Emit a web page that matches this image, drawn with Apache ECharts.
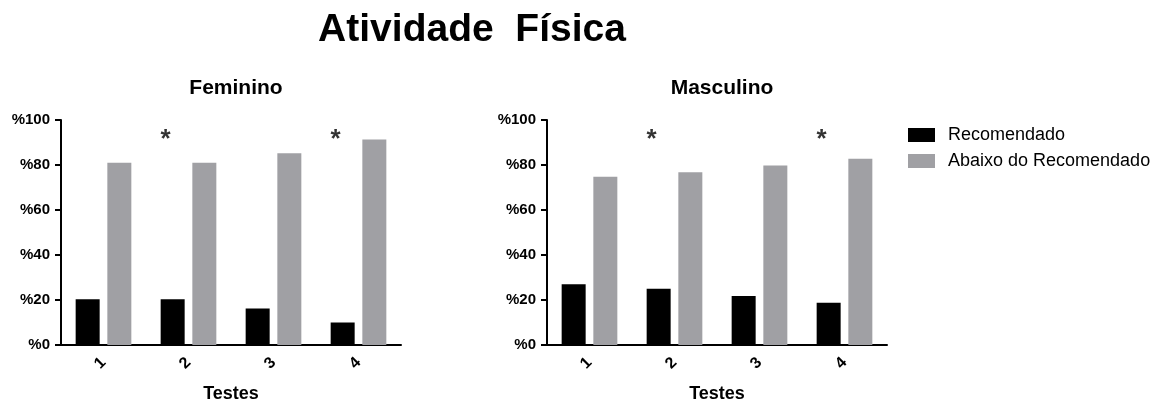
<!DOCTYPE html>
<html>
<head>
<meta charset="utf-8">
<script src="https://cdn.jsdelivr.net/npm/echarts@6/dist/echarts.min.js"></script>
<style>
html,body{margin:0;padding:0;background:#fff;}
#chart{width:1162px;height:403px;}
</style>
</head>
<body>
<div id="chart"></div>
<script>
var categories = ['1', '2', '3', '4'];
var femRecomendado = [20.3, 20.3, 16.2, 10.0];
var femAbaixo = [81.0, 81.0, 85.2, 91.3];
var mascRecomendado = [27.0, 25.0, 21.8, 18.8];
var mascAbaixo = [74.8, 76.8, 79.8, 82.8];
var femStars = [null, 93, null, 93];
var mascStars = [null, 93, null, 93];
var yTicks = [0, 20, 40, 60, 80, 100];
var seriesNames = ['Recomendado', 'Abaixo do Recomendado'];

var FONT = '"Liberation Sans", Arial, Helvetica, sans-serif';
var BLACK = '#000000';
var GRAY = '#a0a0a4';

function xAxis(gi) {
  return {
    type: 'category', gridIndex: gi, data: categories,
    axisLine: { lineStyle: { color: '#000', width: 2 } },
    axisTick: { alignWithLabel: true, length: 6, lineStyle: { color: '#000', width: 2 } },
    axisLabel: { rotate: 45, color: '#000', fontFamily: FONT, fontWeight: 'bold', fontSize: 16, margin: 15 },
    name: 'Testes', nameLocation: 'middle', nameGap: 40, nameMoveOverlap: false,
    nameTextStyle: { color: '#000', fontFamily: FONT, fontWeight: 'bold', fontSize: 18 }
  };
}
function yAxis(gi) {
  return {
    type: 'value', gridIndex: gi, min: yTicks[0], max: yTicks[yTicks.length - 1], interval: 20,
    axisLine: { show: true, lineStyle: { color: '#000', width: 2 } },
    axisTick: { show: true, length: 6, lineStyle: { color: '#000', width: 2 } },
    splitLine: { show: false },
    axisLabel: { color: '#000', fontFamily: FONT, fontWeight: 'bold', fontSize: 15, margin: 11,
      formatter: function (v) { return '%' + v; } }
  };
}
function bars(name, data, color, gi) {
  return {
    type: 'bar', name: name, data: data, xAxisIndex: gi, yAxisIndex: gi,
    barWidth: 24, barGap: '32%', itemStyle: { color: color }, animation: false
  };
}
function stars(data, gi) {
  return {
    type: 'scatter', name: 'stars', data: data, xAxisIndex: gi, yAxisIndex: gi,
    symbolSize: 1, itemStyle: { color: 'rgba(0,0,0,0)' }, animation: false, silent: true,
    label: { show: true, formatter: '*', position: 'inside', offset: [-23, 4],
      color: '#000', fontFamily: FONT, fontWeight: 'bold', fontSize: 26 }
  };
}

var chart = echarts.init(document.getElementById('chart'), null, { renderer: 'canvas' });
chart.setOption({
  backgroundColor: '#fff',
  animation: false,
  title: [
    { text: 'Atividade  Física', left: 467, top: 6, textAlign: 'center',
      textStyle: { fontFamily: FONT, fontWeight: 'bold', fontSize: 39, color: '#000' } },
    { text: 'Feminino', left: 231, top: 73, textAlign: 'center',
      textStyle: { fontFamily: FONT, fontWeight: 'bold', fontSize: 21, color: '#000' } },
    { text: 'Masculino', left: 717, top: 73, textAlign: 'center',
      textStyle: { fontFamily: FONT, fontWeight: 'bold', fontSize: 21, color: '#000' } }
  ],
  legend: {
    data: seriesNames, orient: 'vertical', left: 903, top: 121,
    itemWidth: 27, itemHeight: 14, itemGap: 8, icon: 'rect',
    textStyle: { fontFamily: FONT, fontSize: 18, color: '#000', padding: [0, 0, 0, 8] }
  },
  grid: [
    { left: 61, top: 120, width: 340, height: 225, containLabel: false, outerBoundsMode: 'none' },
    { left: 547, top: 120, width: 340, height: 225, containLabel: false, outerBoundsMode: 'none' }
  ],
  xAxis: [xAxis(0), xAxis(1)],
  yAxis: [yAxis(0), yAxis(1)],
  series: [
    bars(seriesNames[0], femRecomendado, BLACK, 0),
    bars(seriesNames[1], femAbaixo, GRAY, 0),
    bars(seriesNames[0], mascRecomendado, BLACK, 1),
    bars(seriesNames[1], mascAbaixo, GRAY, 1),
    stars(femStars, 0),
    stars(mascStars, 1)
  ]
});
</script>
</body>
</html>
